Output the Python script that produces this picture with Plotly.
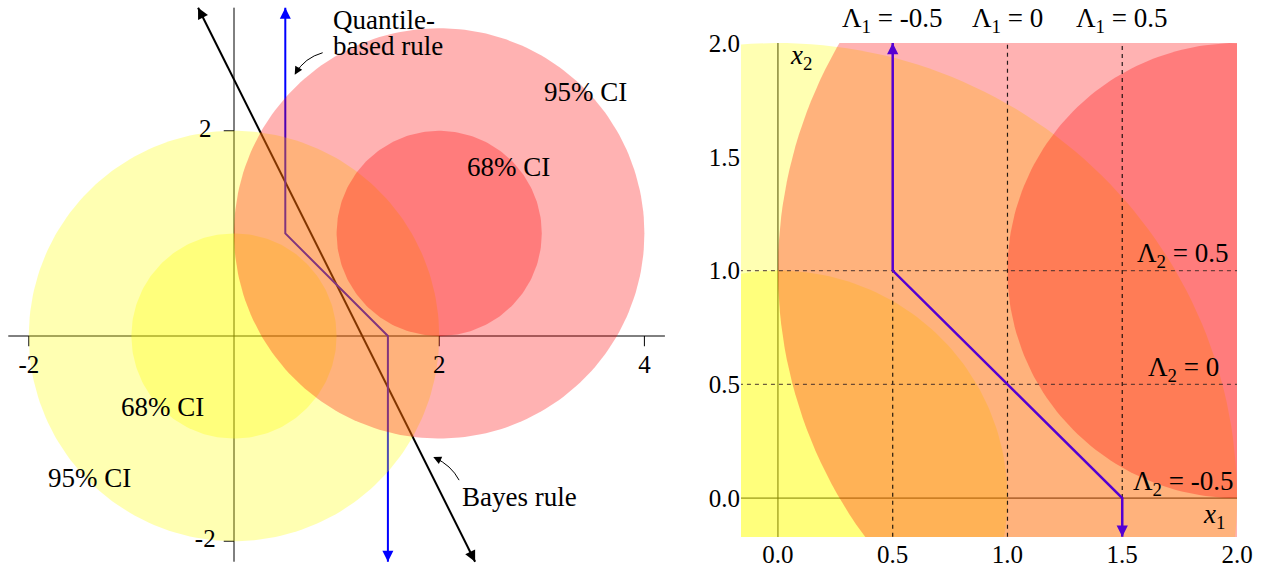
import numpy as np
import plotly.graph_objects as go

# ---- data -------------------------------------------------------------
# confidence discs: centre x, centre y, radius, label
yellow_cx, yellow_cy = 0.0, 0.0
red_cx, red_cy = 2.0, 1.0
radii = [2.0, 1.0]            # 95% and 68% discs
ci_labels = ["95% CI", "68% CI"]

# decision rules (left panel)
bayes_x = [-0.35, 2.35]
bayes_y = [3.2, -2.2]
quant_x = [0.5, 0.5, 1.5, 1.5]
quant_y = [3.2, 1.0, 0.0, -2.2]

# left panel axis ticks
left_xticks = [-2, 2, 4]
left_yticks = [2, -2]

# right panel (zoomed view)
zoom_quant_x = [0.5, 0.5, 1.5, 1.5]
zoom_quant_y = [2.0, 1.0, 0.0, -0.17]
lambda1_vals = [0.5, 1.0, 1.5]
lambda1_text = ["-0.5", "0", "0.5"]
lambda2_vals = [1.0, 0.5, 0.0]
lambda2_text = ["0.5", "0", "-0.5"]
zoom_ticks = [0.0, 0.5, 1.0, 1.5, 2.0]
zoom_ticktext = ["0.0", "0.5", "1.0", "1.5", "2.0"]

# ---- styles -----------------------------------------------------------
FONT = "Liberation Serif, Times New Roman, serif"
FS = 27
TICK_FS = 25
YELLOW = "rgba(255,255,0,0.3)"
RED = "rgba(255,0,0,0.3)"
PURPLE = "rgb(85,0,210)"


def disc(cx, cy, r, n=240):
    t = np.linspace(0, 2 * np.pi, n)
    return cx + r * np.cos(t), cy + r * np.sin(t)


fig = go.Figure()


def line(x, y, color, width, xa="x", ya="y", dash=None):
    fig.add_trace(go.Scatter(x=x, y=y, mode="lines", xaxis=xa, yaxis=ya,
                             line=dict(color=color, width=width, dash=dash),
                             hoverinfo="skip", showlegend=False))


def fill_disc(cx, cy, r, color, xa, ya):
    xs, ys = disc(cx, cy, r)
    fig.add_trace(go.Scatter(x=xs, y=ys, mode="lines", fill="toself",
                             fillcolor=color, line=dict(width=0),
                             xaxis=xa, yaxis=ya, hoverinfo="skip",
                             showlegend=False))


# ---- left panel: lines first, discs drawn over them ----------------------
line([-2.2, 4.2], [0, 0], "black", 1)
line([0, 0], [-2.2, 3.2], "black", 1)
tx, ty = [], []
for v in left_xticks:
    tx += [v, v, None]
    ty += [0, -0.1, None]
for v in left_yticks:
    tx += [0, -0.1, None]
    ty += [v, v, None]
line(tx, ty, "black", 1)
line(bayes_x, bayes_y, "black", 2)
line(quant_x, quant_y, "blue", 2)

for r in radii:
    fill_disc(yellow_cx, yellow_cy, r, YELLOW, "x", "y")
for r in radii:
    fill_disc(red_cx, red_cy, r, RED, "x", "y")

fig.add_trace(go.Scatter(
    x=left_xticks + [-0.28] * len(left_yticks),
    y=[-0.30] * len(left_xticks) + left_yticks,
    text=[str(v) for v in left_xticks] + [str(v) for v in left_yticks],
    mode="text", textfont=dict(family=FONT, size=TICK_FS, color="black"),
    hoverinfo="skip", showlegend=False))

# ---- right panel: axes first, discs, then guides and rule -----------------
line([-0.2, 2.1], [0, 0], "black", 1, "x2", "y2")
line([0, 0], [-0.2, 2.1], "black", 1, "x2", "y2")
for r in radii:
    fill_disc(yellow_cx, yellow_cy, r, YELLOW, "x2", "y2")
for r in radii:
    fill_disc(red_cx, red_cy, r, RED, "x2", "y2")

dash_style = "4px,4px"
line([0.5, 0.5], [-0.17, 1.0], "rgba(0,0,0,0.85)", 1.2, "x2", "y2", dash_style)
line([1.0, 1.0], [-0.17, 2.0], "rgba(0,0,0,0.85)", 1.2, "x2", "y2", dash_style)
line([1.5, 1.5], [0.0, 2.0], "rgba(0,0,0,0.85)", 1.2, "x2", "y2", dash_style)
for v in [1.0, 0.5]:
    line([-0.17, 2.0], [v, v], "rgba(60,40,40,0.75)", 1.2, "x2", "y2", dash_style)
line(zoom_quant_x, zoom_quant_y, PURPLE, 2.5, "x2", "y2")

# ---- annotations ----------------------------------------------------------
ann = []


def text(x, y, s, xref="x", yref="y", xanchor="center", yanchor="middle", align="center"):
    ann.append(dict(x=x, y=y, xref=xref, yref=yref, text=s, showarrow=False,
                    xanchor=xanchor, yanchor=yanchor, align=align,
                    font=dict(family=FONT, size=FS, color="black")))


def arrow(x, y, ax, ay, color, width, xref="x", yref="y", size=1.1):
    ann.append(dict(x=x, y=y, ax=ax, ay=ay, xref=xref, yref=yref,
                    axref=xref, ayref=yref, text="", showarrow=True,
                    arrowhead=2, arrowsize=size, arrowwidth=width,
                    arrowcolor=color, standoff=0, startstandoff=0))


# arrowheads on the rules
arrow(bayes_x[0], bayes_y[0], bayes_x[0] + 0.05, bayes_y[0] - 0.1, "black", 2)
arrow(bayes_x[-1], bayes_y[-1], bayes_x[-1] - 0.05, bayes_y[-1] + 0.1, "black", 2)
arrow(quant_x[0], quant_y[0], quant_x[0], quant_y[0] - 0.1, "blue", 2)
arrow(quant_x[-1], quant_y[-1], quant_x[-1], quant_y[-1] + 0.1, "blue", 2)
arrow(zoom_quant_x[0], zoom_quant_y[0], zoom_quant_x[0], zoom_quant_y[0] - 0.05,
      PURPLE, 2.5, "x2", "y2", 0.9)
arrow(zoom_quant_x[-1], zoom_quant_y[-1], zoom_quant_x[-1], zoom_quant_y[-1] + 0.05,
      PURPLE, 2.5, "x2", "y2", 0.9)

# disc labels
text(red_cx + 1.43, red_cy + 1.38, ci_labels[0])
text(red_cx + 0.68, red_cy + 0.65, ci_labels[1])
text(yellow_cx - 0.70, yellow_cy - 0.69, ci_labels[1])
text(yellow_cx - 1.41, yellow_cy - 1.38, ci_labels[0])

# rule labels with curved pointers
text(0.95, 3.08, "Quantile-", xanchor="left")
text(0.95, 2.83, "based rule", xanchor="left")
text(2.78, -1.57, "Bayes rule")
shapes = [
    dict(type="path", xref="x", yref="y", path="M 0.864,2.761 Q 0.689,2.712 0.600,2.560",
         line=dict(color="black", width=1)),
    dict(type="path", xref="x", yref="y", path="M 2.194,-1.405 Q 2.117,-1.259 1.955,-1.186",
         line=dict(color="black", width=1)),
]
arrow(0.592, 2.546, 0.64, 2.63, "black", 1, size=1.6)
arrow(1.942, -1.180, 2.03, -1.22, "black", 1, size=1.6)

# right panel labels (the Λ1 row sits above the plotting area)
H = 567
for v, s in zip(lambda1_vals, lambda1_text):
    text(v, 1 - 20 / H, "Λ<sub>1</sub> = " + s, "x2", "paper")
for v, s in zip(lambda2_vals, lambda2_text):
    text(1.765, v - 0.016, "Λ<sub>2</sub> = " + s, "x2", "y2", yanchor="bottom")
text(0.1, 1.94, "<i>x</i><sub>2</sub>", "x2", "y2")
text(1.9, -0.08, "<i>x</i><sub>1</sub>", "x2", "y2")

# ---- layout -------------------------------------------------------------
W = 1262
px_unit = 102.6
hidden = dict(visible=False, showgrid=False, zeroline=False, fixedrange=True)
tick_font = dict(family=FONT, size=TICK_FS, color="black")

fig.update_layout(
    width=W, height=H, margin=dict(l=0, r=0, t=0, b=0),
    paper_bgcolor="white", plot_bgcolor="white", showlegend=False,
    font=dict(family=FONT, size=FS, color="black"),
    xaxis=dict(hidden, domain=[0, 680 / W],
               range=[-234 / px_unit, (680 - 234) / px_unit]),
    yaxis=dict(hidden, domain=[0, 1],
               range=[-(H - 336) / px_unit, 336 / px_unit]),
    xaxis2=dict(domain=[741 / W, 1237 / W], range=[-0.161, 2.0], anchor="y2",
                showgrid=False, zeroline=False, showline=False, ticks="",
                tickvals=zoom_ticks, ticktext=zoom_ticktext, automargin=False,
                tickfont=tick_font),
    yaxis2=dict(domain=[1 - 537 / H, 1 - 43 / H], range=[-0.171, 2.0], anchor="x2",
                showgrid=False, zeroline=False, showline=False, ticks="",
                tickvals=zoom_ticks, ticktext=zoom_ticktext, automargin=False,
                tickfont=tick_font),
    annotations=ann, shapes=shapes,
)

fig.write_html("out.html")
